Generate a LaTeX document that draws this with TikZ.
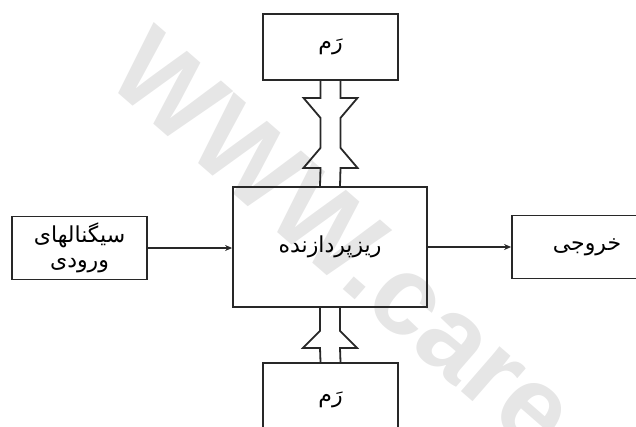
\documentclass[tikz,border=0pt]{standalone}
\usepackage{fontspec}
\setmainfont{DejaVu Sans}
\newfontfamily\farsi[Script=Arabic]{DejaVu Sans}
\newfontfamily\markfont{Liberation Sans}
\TeXXeTstate=1
\usetikzlibrary{arrows.meta, positioning, calc}
\definecolor{boxline}{RGB}{40,40,40}
\definecolor{wmark}{RGB}{230,230,230}
\tikzset{
  box/.style={rectangle, draw=boxline, line width=1.8pt, inner sep=0pt, font=\farsi\fontsize{22}{25}\selectfont, align=center},
  arrow/.style={-{Stealth[length=7pt,width=6pt]}, line width=2pt, color=boxline},
  bus/.style={line width=1.8pt, color=boxline, line join=miter}
}

\begin{document}
\begin{tikzpicture}[x=1pt, y=-1pt]
  \useasboundingbox (0,0) rectangle (636,426);
  \clip (0,0) rectangle (636,426);
  % watermark
  \node[rotate=-41, anchor=west, inner sep=0pt, font=\markfont\bfseries\fontsize{112}{112}\selectfont, text=wmark] (mark) at (128,52) {WWW.care};

  % blocks
  \node[box, minimum width=135, minimum height=66] (ramtop) at (330.5,47) {\beginR رَم\endR};
  \node[box, minimum width=194, minimum height=120] (cpu) at (330,247) {\beginR ریزپردازنده\endR};
  \node[box, minimum width=135, minimum height=63] (inp) at (79.5,248) {\beginR سیگنالهای\endR\\\beginR ورودی\endR};
  \node[box, minimum width=150, minimum height=63] (out) at (587,247) {\beginR خروجی\endR};
  \node[box, minimum width=135, minimum height=74] (ramlow) at (330.5,400) {\beginR رَم\endR};

  % signal lines
  \draw[arrow] (inp.east) -- (inp.east -| cpu.west);
  \draw[arrow] (cpu.east) -- (cpu.east -| out.west);

  % bus to upper memory
  \draw[bus] ($(ramtop.south)+(-10,0)$) -- ++(0,17) -- ++(-17,0) -- ++(17,20) -- ++(0,30) -- ++(-17,20) -- ++(17,0) -- ($(cpu.north)+(-10,0)$);
  \draw[bus] ($(ramtop.south)+(10,0)$) -- ++(0,17) -- ++(17,0) -- ++(-17,20) -- ++(0,30) -- ++(17,20) -- ++(-17,0) -- ($(cpu.north)+(10,0)$);

  % bus to lower memory
  \draw[bus] ($(cpu.south)+(-10,0)$) -- ++(0,23) -- ++(-17,17) -- ++(17,0) -- ($(ramlow.north)+(-10,0)$);
  \draw[bus] ($(cpu.south)+(10,0)$) -- ++(0,23) -- ++(17,17) -- ++(-17,0) -- ($(ramlow.north)+(10,0)$);
\end{tikzpicture}
\end{document}
